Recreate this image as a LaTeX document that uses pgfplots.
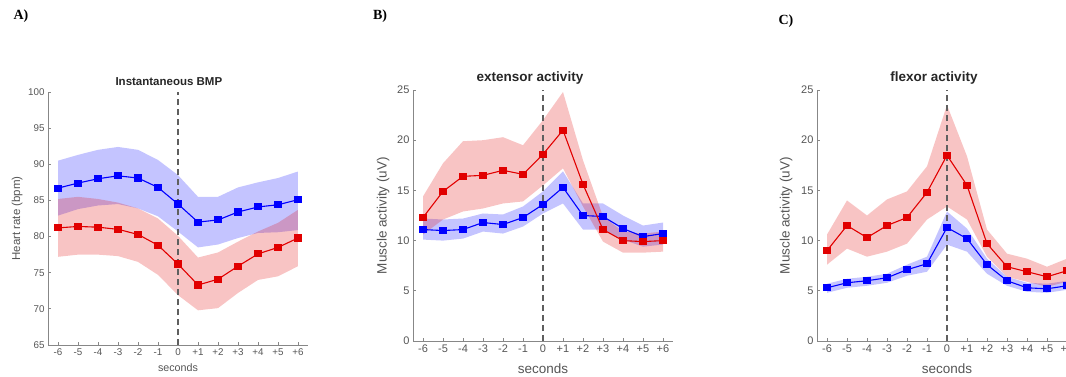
\documentclass[border=0pt]{standalone}
\usepackage{pgfplots}
\pgfplotsset{compat=1.18}
\usepackage{pgfplotstable}
\usepgfplotslibrary{fillbetween}
\usepackage{fontspec}
\setmainfont{Liberation Sans}
\newfontfamily\letterfont{Liberation Serif}

\definecolor{axgray}{RGB}{135,135,135}
\definecolor{txtgray}{RGB}{85,85,85}
\definecolor{mblue}{RGB}{0,0,255}
\definecolor{mred}{RGB}{225,0,0}
\definecolor{dashgray}{RGB}{95,95,95}

% Panel A: heart rate
\pgfplotstableread{
x   m    up   lo
-6  86.7 90.5 82.9
-5  87.4 91.3 83.8
-4  88.0 92.0 84.3
-3  88.4 92.4 84.5
-2  88.1 92.0 83.9
-1  86.8 90.6 82.8
0   84.5 88.5 80.7
1   82.0 85.5 78.5
2   82.3 85.5 78.9
3   83.4 86.8 79.8
4   84.1 87.5 80.5
5   84.4 88.1 80.6
6   85.1 89.0 80.9
}\Ablue
\pgfplotstableread{
x   m    up   lo
-6  81.2 85.2 77.2
-5  81.4 85.5 77.5
-4  81.3 85.2 77.5
-3  81.0 84.7 77.3
-2  80.3 83.9 76.5
-1  78.8 82.5 74.7
0   76.2 80.1 71.9
1   73.3 77.1 69.8
2   74.1 77.8 70.1
3   75.9 79.3 72.2
4   77.6 80.7 74.0
5   78.5 81.9 74.5
6   79.8 83.7 75.9
}\Ared
% Panel B: extensor
\pgfplotstableread{
x   m    up   lo
-6  11.1 12.2 10.1
-5  11.0 12.1 10.0
-4  11.1 12.2 10.2
-3  11.8 12.7 10.9
-2  11.6 12.6 10.7
-1  12.3 13.4 11.4
0   13.6 14.9 12.7
1   15.3 16.9 13.7
2   12.5 13.7 11.1
3   12.4 13.7 11.1
4   11.2 12.5 10.1
5   10.4 11.5 9.4
6   10.7 11.8 9.6
}\Bblue
\pgfplotstableread{
x   m    up   lo
-6  12.3 14.4 10.6
-5  14.9 17.7 12.1
-4  16.4 19.9 12.9
-3  16.5 20.0 13.2
-2  17.0 20.3 13.7
-1  16.6 19.5 13.9
0   18.6 22.0 15.5
1   21.0 24.8 17.2
2   15.6 18.0 13.4
3   11.1 12.4 9.9
4   10.0 10.9 8.8
5   9.9  10.7 8.8
6   10.0 10.9 8.9
}\Bred
% Panel C: flexor
\pgfplotstableread{
x   m    up   lo
-6  5.3  5.7  4.8
-5  5.8  6.2  5.3
-4  6.0  6.4  5.5
-3  6.3  6.7  5.8
-2  7.1  7.6  6.5
-1  7.7  8.4  6.9
0   11.3 12.9 9.6
1   10.2 11.2 8.9
2   7.6  8.2  6.7
3   6.0  6.4  5.5
4   5.3  5.8  4.9
5   5.2  5.7  4.8
6   5.5  6.0  5.1
}\Cblue
\pgfplotstableread{
x   m    up   lo
-6  9.0  10.6 7.6
-5  11.5 14.0 9.2
-4  10.3 12.5 8.4
-3  11.5 14.1 8.9
-2  12.3 14.9 9.7
-1  14.8 17.4 12.1
0   18.5 23.5 13.4
1   15.5 18.4 12.1
2   9.7  11.1 8.4
3   7.4  8.7  6.4
4   6.9  8.2  5.9
5   6.4  7.4  5.4
6   7.0  8.2  5.9
}\Cred

\pgfplotsset{
  every axis title shift=0pt,
  panel/.style={
    scale only axis, width=260pt, anchor=south west,
    xmin=-6.5, xmax=6.5,
    axis x line*=bottom, axis y line*=left,
    axis line style={axgray, line width=0.8pt, -},
    tick style={axgray, line width=0.8pt},
    tick align=inside, major tick length=3pt,
    xtick={-6,...,6},
    xticklabels={-6,-5,-4,-3,-2,-1,0,+1,+2,+3,+4,+5,+6},
    tick label style={txtgray},
    label style={txtgray},
    /pgf/number format/assume math mode=true,
    clip=false,
    xlabel={seconds},
  },
  band/.style={draw=none, fill=#1, fill opacity=0.23},
  mean/.style={#1, line width=1.1pt, mark=square*, mark size=3pt, mark options={fill=#1, solid}},
  zeroline/.style={dashgray, line width=1.1pt, dash pattern=on 6pt off 4pt},
}

\begin{document}
\begin{tikzpicture}

% ---------------- Panel A ----------------
\begin{axis}[panel, at={(48pt,31pt)}, height=253pt,
  ymin=65, ymax=100, ytick={65,70,...,100},
  tick label style={font=\fontsize{9.8}{11}\selectfont},
  xlabel style={font=\fontsize{10.7}{12}\selectfont, at={(axis description cs:0.5,-0.09)}, anchor=center},
  ylabel={Heart rate (bpm)},
  ylabel style={font=\fontsize{11.5}{13}\selectfont, at={(axis description cs:-0.119,0.5)}, anchor=center},
  title={Instantaneous BMP},
  title style={font=\bfseries\fontsize{11.5}{13}\selectfont, at={(axis description cs:0.465,1.04)}, anchor=center, text=black!85},
]
\addplot[name path=abu, draw=none, forget plot] table[x=x,y=up]{\Ablue};
\addplot[name path=abl, draw=none, forget plot] table[x=x,y=lo]{\Ablue};
\addplot[band=mblue] fill between[of=abu and abl];
\addplot[name path=aru, draw=none, forget plot] table[x=x,y=up]{\Ared};
\addplot[name path=arl, draw=none, forget plot] table[x=x,y=lo]{\Ared};
\addplot[band=mred] fill between[of=aru and arl];
\addplot[zeroline] coordinates {(0,65) (0,100)};
\addplot[mean=mblue] table[x=x,y=m]{\Ablue};
\addplot[mean=mred] table[x=x,y=m]{\Ared};
\end{axis}

% ---------------- Panel B ----------------
\begin{axis}[panel, at={(413pt,35pt)}, height=251pt,
  ymin=0, ymax=25, ytick={0,5,...,25},
  tick label style={font=\fontsize{11}{12}\selectfont},
  xlabel style={font=\fontsize{13.5}{15}\selectfont, at={(axis description cs:0.5,-0.11)}, anchor=center},
  ylabel={Muscle activity (uV)},
  ylabel style={font=\fontsize{13.5}{15}\selectfont, at={(axis description cs:-0.115,0.5)}, anchor=center},
  title={extensor activity},
  title style={font=\bfseries\fontsize{13.5}{15}\selectfont, at={(axis description cs:0.45,1.048)}, anchor=center, text=black!85},
]
\addplot[name path=bbu, draw=none, forget plot] table[x=x,y=up]{\Bblue};
\addplot[name path=bbl, draw=none, forget plot] table[x=x,y=lo]{\Bblue};
\addplot[band=mblue] fill between[of=bbu and bbl];
\addplot[name path=bru, draw=none, forget plot] table[x=x,y=up]{\Bred};
\addplot[name path=brl, draw=none, forget plot] table[x=x,y=lo]{\Bred};
\addplot[band=mred] fill between[of=bru and brl];
\addplot[zeroline] coordinates {(0,0) (0,25)};
\addplot[mean=mblue] table[x=x,y=m]{\Bblue};
\addplot[mean=mred] table[x=x,y=m]{\Bred};
\end{axis}

% ---------------- Panel C ----------------
\begin{axis}[panel, at={(817pt,35pt)}, height=251pt,
  ymin=0, ymax=25, ytick={0,5,...,25},
  tick label style={font=\fontsize{11}{12}\selectfont},
  xlabel style={font=\fontsize{13.5}{15}\selectfont, at={(axis description cs:0.5,-0.11)}, anchor=center},
  ylabel={Muscle activity (uV)},
  ylabel style={font=\fontsize{13.5}{15}\selectfont, at={(axis description cs:-0.119,0.5)}, anchor=center},
  title={flexor activity},
  title style={font=\bfseries\fontsize{13.5}{15}\selectfont, at={(axis description cs:0.45,1.048)}, anchor=center, text=black!85},
]
\addplot[name path=cbu, draw=none, forget plot] table[x=x,y=up]{\Cblue};
\addplot[name path=cbl, draw=none, forget plot] table[x=x,y=lo]{\Cblue};
\addplot[band=mblue] fill between[of=cbu and cbl];
\addplot[name path=cru, draw=none, forget plot] table[x=x,y=up]{\Cred};
\addplot[name path=crl, draw=none, forget plot] table[x=x,y=lo]{\Cred};
\addplot[band=mred] fill between[of=cru and crl];
\addplot[zeroline] coordinates {(0,0) (0,25)};
\addplot[mean=mblue] table[x=x,y=m]{\Cblue};
\addplot[mean=mred] table[x=x,y=m]{\Cred};
\end{axis}

% panel letters
\node[font=\letterfont\bfseries\fontsize{14}{14}\selectfont] at (21pt,360pt) {A)};
\node[font=\letterfont\bfseries\fontsize{14}{14}\selectfont] at (380pt,360pt) {B)};
\node[font=\letterfont\bfseries\fontsize{14}{14}\selectfont] at (786pt,355pt) {C)};

\pgfresetboundingbox
\useasboundingbox (0,0) rectangle (1066pt,376pt);
\end{tikzpicture}
\end{document}
